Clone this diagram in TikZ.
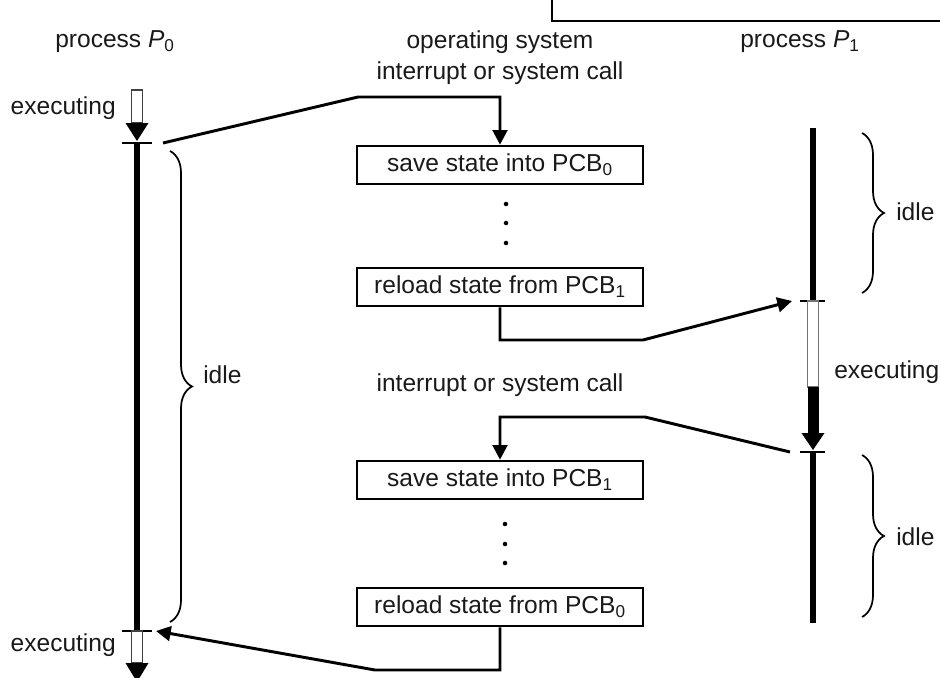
\documentclass[tikz,border=0pt]{standalone}
\usepackage{fontspec}
\setmainfont{Liberation Sans}
\usetikzlibrary{arrows.meta,decorations.pathreplacing}
\begin{document}
\begin{tikzpicture}[x=0.75pt,y=-0.75pt,
  lbl/.style={font=\fontsize{18.4pt}{22pt}\selectfont, inner sep=0pt, text=black!90},
  osbox/.style={draw, line width=1.4pt, minimum width=214.5pt, minimum height=29pt,
    inner sep=0pt, font=\fontsize{18.4pt}{22pt}\selectfont, text=black!90},
  conn/.style={line width=2.2pt, -{Triangle[length=11pt,width=11pt]}},
  plain/.style={line width=2.2pt},
  timebar/.style={line width=5.2pt},
  tickmark/.style={line width=1.5pt},
  hollow/.style={draw=black!75, fill=white, line width=1pt},
  brc/.style={decorate, decoration={brace, amplitude=16.5pt}, line width=1.3pt},
]
\useasboundingbox (0,0) rectangle (940,678);

% frame corner at the top right
\draw[line width=1.6pt] (552,-3) -- (552,21) -- (943,21);

% column headings
\node[lbl] (h0) at (115,42) {process \textit{P}\textsubscript{0}};
\node[lbl] (hos) at (500,42) {operating system};
\node[lbl] (h1) at (800,42) {process \textit{P}\textsubscript{1}};

% operating system column
\node[lbl] (int1) at (500,73) {interrupt or system call};
\node[osbox] (box1) at (500,165) {save state into PCB\textsubscript{0}};
\node[osbox] (box2) at (500,287) {reload state from PCB\textsubscript{1}};
\node[lbl] (int2) at (500,385) {interrupt or system call};
\node[osbox] (box3) at (500,480) {save state into PCB\textsubscript{1}};
\node[osbox] (box4) at (500,607) {reload state from PCB\textsubscript{0}};
\foreach \y in {204,223,243} \fill (506,\y) circle[radius=1.7pt];
\foreach \y in {524,544,563} \fill (505,\y) circle[radius=1.7pt];

% process P0 time line
\draw[hollow] (131.5,90) rectangle (142.5,123);
\fill (125.5,123) -- (148.5,123) -- (137,141) -- cycle;
\draw[tickmark] (122,143) -- (152,143);
\draw[timebar] (137,143) -- (137,631);
\draw[tickmark] (122,631) -- (152,631);
\draw[hollow] (131.5,631) rectangle (142.5,663);
\fill (125.5,663) -- (148.5,663) -- (137,682) -- cycle;
\node[lbl, anchor=east] (ex0a) at (116,108) {executing};
\node[lbl, anchor=east] (ex0b) at (116,645) {executing};
\draw[brc] (170,151) -- (170,622);
\node[lbl, anchor=west] (idle0) at (203,375) {idle};

% process P1 time line
\draw[timebar] (813,128) -- (813,301);
\draw[tickmark] (800,301) -- (825,301);
\draw[hollow, draw=black!55] (807.5,301) rectangle (818.5,387);
\fill (807.5,387) rectangle (818.5,433);
\fill (801.5,433) -- (824.5,433) -- (813,450) -- cycle;
\draw[tickmark] (800,452) -- (825,452);
\draw[timebar] (813,452) -- (813,623);
\node[lbl, anchor=west] (ex1) at (834,372) {executing};
\draw[brc] (862,133) -- (862,293);
\node[lbl, anchor=west] (idle1a) at (896,212) {idle};
\draw[brc] (862,455) -- (862,617);
\node[lbl, anchor=west] (idle1b) at (896,537) {idle};

% connector end points beside the time lines
\coordinate (out0) at (163,143);
\coordinate (in1) at (792,301);
\coordinate (out1) at (790,452);
\coordinate (in0) at (156,631);

% switches between the processes
\draw[conn] (out0) -- (358,97) -| (box1.north);
\draw[conn] (box2.south) |- (643,340) -- (in1);
\draw[conn] (out1) -- (645,417) -| (box3.north);
\draw[conn] (box4.south) |- (375,670) -- (in0);
\end{tikzpicture}
\end{document}
